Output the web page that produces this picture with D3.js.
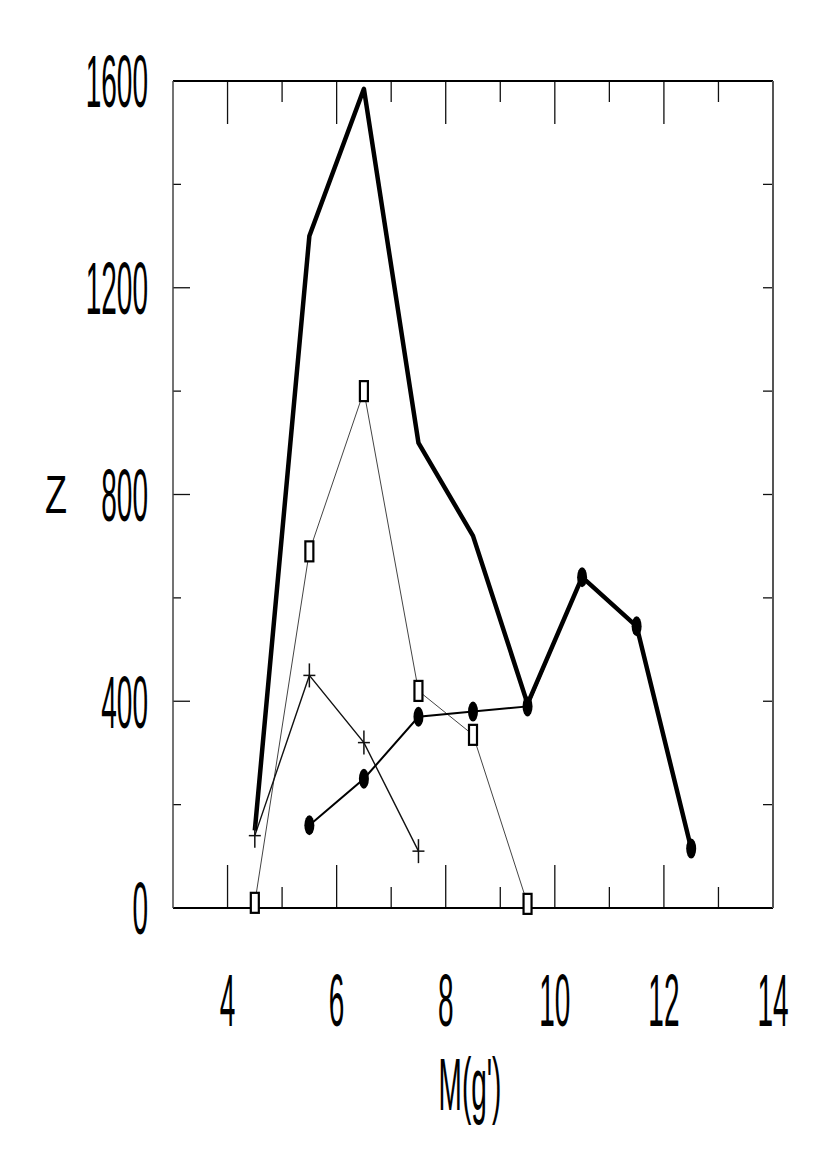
<!DOCTYPE html>
<html>
<head>
<meta charset="utf-8">
<script src="https://cdn.jsdelivr.net/npm/d3@7"></script>
<style>
  body { margin: 0; background: #fff; }
  svg { display: block; }
  text { font-family: "Liberation Sans", Arial, sans-serif; fill: #000; }
</style>
</head>
<body>
<div id="chart"></div>
<script>
// magnitude bins M(g')
const mags = [4.5, 5.5, 6.5, 7.5, 8.5, 9.5, 10.5, 11.5, 12.5];
// total counts (thick line)
const totalN = [150, 1300, 1585, 900, 720, 395, 640, 545, 115];
// filled circles
const circleMags = [5.5, 6.5, 7.5, 8.5, 9.5, 10.5, 11.5, 12.5];
const circleN = [160, 250, 370, 380, 390, 640, 545, 115];
// open squares
const squareMags = [4.5, 5.5, 6.5, 7.5, 8.5, 9.5];
const squareN = [10, 690, 1000, 420, 335, 8];
// crosses
const crossMags = [4.5, 5.5, 6.5, 7.5];
const crossN = [140, 450, 320, 110];

const xMajor = [4, 6, 8, 10, 12, 14];
const xMinor = [5, 7, 9, 11, 13];
const yMajor = [0, 400, 800, 1200, 1600];
const yMinor = [200, 600, 1000, 1400];

const width = 827, height = 1170;
const pL = 173, pR = 773, pT = 81, pB = 908;

const svg = d3.select("#chart").append("svg")
  .attr("width", width)
  .attr("height", height);

const x = d3.scaleLinear().domain([3, 14]).range([pL, pR]);
const y = d3.scaleLinear().domain([0, 1600]).range([pB, pT]);

// ticks pointing inward
const g = svg.append("g").attr("stroke", "#111").attr("stroke-width", 1.3);

function tickLines(vals, len, side) {
  g.selectAll(null).data(vals.filter(v => v > 3 && v < 14)).enter().append("line")
    .attr("x1", d => x(d)).attr("x2", d => x(d))
    .attr("y1", side === "bottom" ? pB : pT)
    .attr("y2", side === "bottom" ? pB - len : pT + len);
}
tickLines(xMajor, 43, "bottom");
tickLines(xMinor, 21, "bottom");
tickLines(xMajor, 43, "top");
tickLines(xMinor, 21, "top");

function yTickLines(vals, len, side) {
  g.selectAll(null).data(vals.filter(v => v > 0 && v < 1600)).enter().append("line")
    .attr("y1", d => y(d)).attr("y2", d => y(d))
    .attr("x1", side === "left" ? pL : pR)
    .attr("x2", side === "left" ? pL + len : pR - len);
}
yTickLines(yMajor, 17, "left");
yTickLines(yMinor, 8, "left");
yTickLines(yMajor, 10, "right");
yTickLines(yMinor, 10, "right");

// frame
svg.append("line").attr("x1", pL).attr("x2", pR).attr("y1", pT).attr("y2", pT)
  .attr("stroke", "#000").attr("stroke-width", 2);
svg.append("line").attr("x1", pL).attr("x2", pR).attr("y1", pB).attr("y2", pB)
  .attr("stroke", "#000").attr("stroke-width", 2);
svg.append("line").attr("x1", pL).attr("x2", pL).attr("y1", pT).attr("y2", pB)
  .attr("stroke", "#444").attr("stroke-width", 1.5);
svg.append("line").attr("x1", pR).attr("x2", pR).attr("y1", pT).attr("y2", pB)
  .attr("stroke", "#555").attr("stroke-width", 2);

// tick labels (tall, condensed look)
const sy = 2.64;
svg.selectAll("text.ylab").data(yMajor).enter().append("text")
  .attr("class", "ylab")
  .attr("transform", d => `translate(148,${y(d)}) scale(1,${sy})`)
  .attr("y", 10)
  .attr("text-anchor", "end")
  .attr("font-size", 28)
  .text(d => d);

svg.selectAll("text.xlab").data(xMajor).enter().append("text")
  .attr("class", "xlab")
  .attr("transform", d => `translate(${x(d)},1000) scale(1,${sy})`)
  .attr("y", 10)
  .attr("text-anchor", "middle")
  .attr("font-size", 28)
  .text(d => d);

svg.append("text")
  .attr("transform", `translate(470,1110) scale(1,${sy})`)
  .attr("text-anchor", "middle")
  .attr("font-size", 28)
  .text("M(g')");

svg.append("text")
  .attr("transform", "translate(56,513) scale(1,1.47)")
  .attr("text-anchor", "middle")
  .attr("font-size", 36)
  .text("Z");

// lines
const line = d3.line().x(d => x(d[0])).y(d => y(d[1]));
const zip = (a, b) => a.map((v, i) => [v, b[i]]);

svg.append("path").datum(zip(squareMags, squareN))
  .attr("d", line).attr("fill", "none").attr("stroke", "#444").attr("stroke-width", 1);
svg.append("path").datum(zip(crossMags, crossN))
  .attr("d", line).attr("fill", "none").attr("stroke", "#111").attr("stroke-width", 1.4);
svg.append("path").datum(zip(circleMags, circleN))
  .attr("d", line).attr("fill", "none").attr("stroke", "#000").attr("stroke-width", 2);
svg.append("path").datum(zip(mags, totalN))
  .attr("d", line).attr("fill", "none").attr("stroke", "#000").attr("stroke-width", 4.5)
  .attr("stroke-linejoin", "round");

// markers
svg.selectAll("ellipse.circ").data(zip(circleMags, circleN)).enter().append("ellipse")
  .attr("class", "circ")
  .attr("cx", d => x(d[0])).attr("cy", d => y(d[1]))
  .attr("rx", 5).attr("ry", 10)
  .attr("fill", "#000");

svg.selectAll("rect.sq").data(zip(squareMags, squareN)).enter().append("rect")
  .attr("class", "sq")
  .attr("x", d => x(d[0]) - 4).attr("y", d => y(d[1]) - 10)
  .attr("width", 8).attr("height", 20)
  .attr("fill", "#fff").attr("stroke", "#000").attr("stroke-width", 2.2);

const crosses = svg.selectAll("g.cross").data(zip(crossMags, crossN)).enter().append("g")
  .attr("class", "cross")
  .attr("transform", d => `translate(${x(d[0])},${y(d[1])})`)
  .attr("stroke", "#111").attr("stroke-width", 1.5);
crosses.append("line").attr("x1", -6).attr("x2", 6).attr("y1", 0).attr("y2", 0);
crosses.append("line").attr("x1", 0).attr("x2", 0).attr("y1", -12).attr("y2", 12);
</script>
</body>
</html>
